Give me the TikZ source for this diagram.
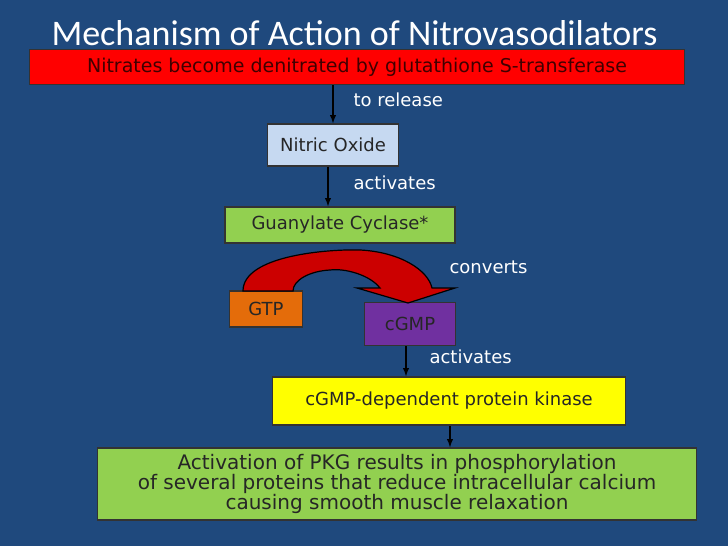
\documentclass[tikz,border=0pt]{standalone}
\usepackage{fontspec}
\setmainfont{DejaVu Sans}
\newfontfamily\titlefont{Carlito}
\usetikzlibrary{positioning}
\definecolor{bgblue}{RGB}{31,73,125}
\definecolor{noblue}{RGB}{198,217,241}
\definecolor{gcgreen}{RGB}{146,208,80}
\definecolor{gtporange}{RGB}{228,108,10}
\definecolor{cgmppurple}{RGB}{112,48,160}
\definecolor{pkyellow}{RGB}{255,255,0}
\definecolor{arcred}{RGB}{204,0,0}
\begin{document}
\begin{tikzpicture}[x=1pt,y=-1pt]
	\tikzset{box/.style = {draw=black!80, line width=1.5pt, inner sep=0pt, font=\fontsize{18}{20}\selectfont, text=black!85},
		lbl/.style = {text=white, font=\fontsize{18}{20}\selectfont, anchor=west},
		flow/.style = {draw=black, line width=1.8pt, -latex}}
	\fill[bgblue] (0,0) rectangle (728,546);
	\useasboundingbox (0,0) rectangle (728,546);
	\node[anchor=west, text=white, font=\titlefont\fontsize{36}{38}\selectfont] (title) at (48,33) {Mechanism of Action of Nitrovasodilators};
	% boxes
	\node[box, fill=red, minimum width=655pt, minimum height=35pt, text=black!75!red, font=\fontsize{19}{20}\selectfont] (nitr) at (357,67) {Nitrates become denitrated by glutathione S-transferase};
	\node[box, fill=noblue, minimum width=131pt, minimum height=42pt] (no) at (333,145) {Nitric Oxide};
	\node[box, fill=gcgreen, minimum width=230pt, minimum height=36pt] (gc) at (340,225) {Guanylate Cyclase*};
	\node[box, fill=gtporange, minimum width=73pt, minimum height=36pt] (gtp) at (266,309) {GTP};
	\node[box, fill=cgmppurple, minimum width=91pt, minimum height=43pt] (cgmp) at (410,324) {cGMP};
	\node[box, fill=pkyellow, minimum width=353pt, minimum height=48pt] (pkg) at (449,401) {cGMP-dependent protein kinase};
	\node[box, fill=gcgreen, minimum width=599pt, minimum height=72pt, align=center, font=\fontsize{20}{17}\selectfont] (act) at (397,484)
		{Activation of PKG results in phosphorylation\\of several proteins that reduce intracellular calcium\\causing smooth muscle relaxation};
	% connectors
	\draw[flow] (nitr.south -| no) -- (no.north);
	\draw[flow] (no.south -| 328,0) -- (gc.north -| 328,0);
	\draw[flow] (cgmp.south -| 406,0) -- (pkg.north -| 406,0);
	\draw[flow] (pkg.south -| 450,0) -- (act.north -| 450,0);
	% curved arrow
	\draw[fill=arcred, draw=black, line width=1.2pt] (243,291) .. controls (243,255) and (330,249) .. (360,250)
		.. controls (400,252) and (428,270) .. (432,288) -- (455,288) -- (408,303) -- (357,288) -- (380,288)
		.. controls (370,275) and (345,268) .. (330,270) .. controls (310,271) and (293,280) .. (293,291) -- cycle;
	% labels
	\node[lbl] (l1) at (350,100) {to release};
	\node[lbl] (l2) at (350,183) {activates};
	\node[lbl] (l3) at (446,267) {converts};
	\node[lbl] (l4) at (426,357) {activates};
\end{tikzpicture}
\end{document}
